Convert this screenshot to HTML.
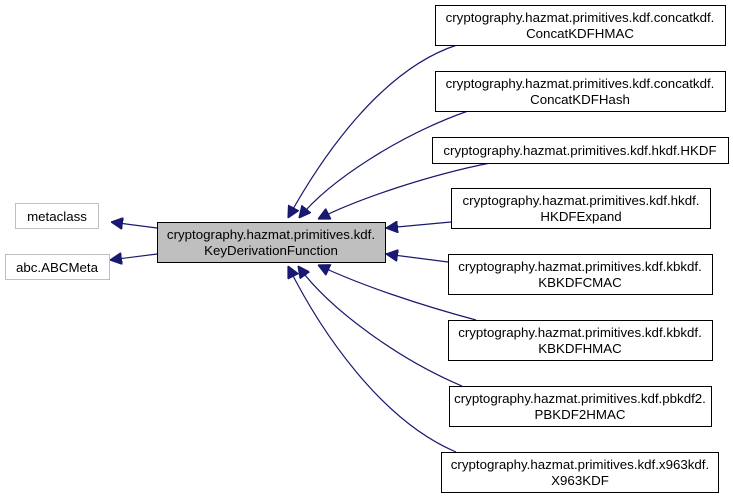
<!DOCTYPE html>
<html><head><style>body{margin:0;background:#fff}</style></head><body>
<svg width="733" height="496" xmlns="http://www.w3.org/2000/svg" font-family="Liberation Sans, sans-serif" font-size="13.3">
<defs><marker id="a" viewBox="0 0 10 10" refX="10" refY="5" markerWidth="12" markerHeight="12" markerUnits="userSpaceOnUse" orient="auto"><path d="M0,0L10,5L0,10z" fill="#191970" stroke="#191970"/></marker></defs>
<g fill="none" stroke="#191970" stroke-width="1.2">
<path d="M457,45 C380,70 320,160 288,218" marker-end="url(#a)"/>
<path d="M468,111 C400,135 330,180 299,218" marker-end="url(#a)"/>
<path d="M490,163 C430,175 360,198 318,219" marker-end="url(#a)"/>
<path d="M451,222 L386,228" marker-end="url(#a)"/>
<path d="M448,262 L386,254" marker-end="url(#a)"/>
<path d="M476,320 C420,305 360,285 318,265" marker-end="url(#a)"/>
<path d="M462,386 C400,360 330,310 298,266" marker-end="url(#a)"/>
<path d="M456,452 C380,420 320,330 288,266" marker-end="url(#a)"/>
<path d="M157,228 L111,222" marker-end="url(#a)"/>
<path d="M157,254 L110,260" marker-end="url(#a)"/>
</g>
<g stroke-width="1">
<rect x="157.5" y="222.5" width="228" height="40" fill="#bfbfbf" stroke="#000"/>
<rect x="15.5" y="203.5" width="83" height="25" fill="#fff" stroke="#bfbfbf"/>
<rect x="5.5" y="254.5" width="104" height="25" fill="#fff" stroke="#bfbfbf"/>
<rect x="435.5" y="5.5" width="290" height="40" fill="#fff" stroke="#000"/>
<rect x="435.5" y="71.5" width="290" height="40" fill="#fff" stroke="#000"/>
<rect x="432.5" y="137.5" width="296" height="26" fill="#fff" stroke="#000"/>
<rect x="451.5" y="188.5" width="259" height="40" fill="#fff" stroke="#000"/>
<rect x="448.5" y="254.5" width="264" height="40" fill="#fff" stroke="#000"/>
<rect x="448.5" y="320.5" width="264" height="40" fill="#fff" stroke="#000"/>
<rect x="449.5" y="386.5" width="262" height="40" fill="#fff" stroke="#000"/>
<rect x="441.5" y="452.5" width="277" height="40" fill="#fff" stroke="#000"/>
</g>
<g text-anchor="middle" fill="#000">
<text x="271" y="239">cryptography.hazmat.primitives.kdf.</text><text x="271" y="255">KeyDerivationFunction</text>
<text x="57" y="221">metaclass</text>
<text x="57" y="272">abc.ABCMeta</text>
<text x="580" y="22">cryptography.hazmat.primitives.kdf.concatkdf.</text><text x="580" y="38">ConcatKDFHMAC</text>
<text x="580" y="88">cryptography.hazmat.primitives.kdf.concatkdf.</text><text x="580" y="104">ConcatKDFHash</text>
<text x="580" y="155">cryptography.hazmat.primitives.kdf.hkdf.HKDF</text>
<text x="581" y="205">cryptography.hazmat.primitives.kdf.hkdf.</text><text x="581" y="221">HKDFExpand</text>
<text x="580" y="271">cryptography.hazmat.primitives.kdf.kbkdf.</text><text x="580" y="287">KBKDFCMAC</text>
<text x="580" y="337">cryptography.hazmat.primitives.kdf.kbkdf.</text><text x="580" y="353">KBKDFHMAC</text>
<text x="580" y="403">cryptography.hazmat.primitives.kdf.pbkdf2.</text><text x="580" y="419">PBKDF2HMAC</text>
<text x="580" y="469">cryptography.hazmat.primitives.kdf.x963kdf.</text><text x="580" y="485">X963KDF</text>
</g>
</svg>
</body></html>
